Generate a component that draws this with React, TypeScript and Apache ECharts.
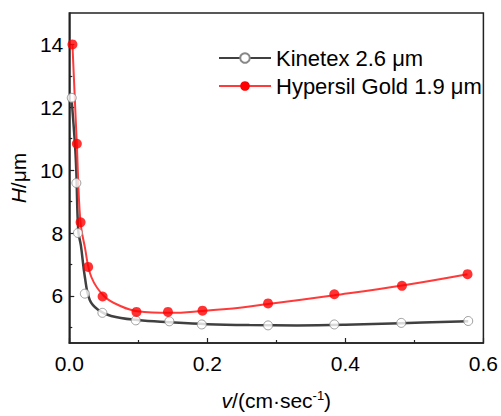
import React, { useEffect, useRef } from "react";
import * as echarts from "echarts";

const kinetexPoints: number[][] = [
  [0.0036, 12.3], [0.0103, 9.59], [0.0126, 8.0], [0.0226, 6.07], [0.048, 5.46],
  [0.0964, 5.22], [0.145, 5.19], [0.192, 5.09], [0.288, 5.06], [0.384, 5.09],
  [0.481, 5.14], [0.578, 5.2],
];
const hypersilPoints: number[][] = [
  [0.0046, 14.0], [0.011, 10.84], [0.0164, 8.34], [0.0274, 6.92], [0.0483, 5.98],
  [0.0974, 5.49], [0.143, 5.49], [0.193, 5.53], [0.288, 5.76], [0.384, 6.05],
  [0.482, 6.32], [0.577, 6.69],
];
const kinetexFit: number[][] = [
  [0.0036, 12.2], [0.0086, 10.7], [0.0103, 9.9], [0.0131, 8.06], [0.0169, 7.6],
  [0.0226, 6.6], [0.0297, 5.87], [0.0417, 5.56], [0.0607, 5.36], [0.099, 5.23],
  [0.146, 5.16], [0.2, 5.1], [0.261, 5.07], [0.33, 5.06], [0.4, 5.08],
  [0.48, 5.13], [0.578, 5.19],
];
const hypersilFit: number[][] = [
  [0.0046, 14.0], [0.011, 10.8], [0.016, 8.4], [0.0226, 7.55], [0.032, 6.6],
  [0.051, 5.98], [0.075, 5.67], [0.099, 5.51], [0.146, 5.46], [0.193, 5.52],
  [0.25, 5.63], [0.288, 5.74], [0.384, 6.02], [0.482, 6.33], [0.577, 6.69],
];
const xTicks = [0, 0.2, 0.4, 0.6];
const yMajor = [6, 8, 10, 12, 14];
const yMinor = [5, 7, 9, 11, 13];
const names = ["Kinetex 2.6 μm", "Hypersil Gold 1.9 μm"];

export default function App() {
  const ref = useRef<HTMLDivElement>(null);
  useEffect(() => {
    if (!ref.current) return;
    const chart = echarts.init(ref.current, undefined, { renderer: "svg" });
    const font = "Liberation Sans, Arial, sans-serif";
    chart.setOption({
      animation: false,
      textStyle: { fontFamily: font, color: "#000" },
      grid: {
        left: 68, right: 15, top: 13, bottom: 67,
        show: true, borderColor: "#222", borderWidth: 1.5,
      },
      legend: {
        data: names,
        orient: "vertical",
        left: 218,
        top: 47,
        padding: 0,
        itemWidth: 52,
        itemHeight: 12,
        itemGap: 6,
        textStyle: { fontSize: 22, color: "#000", fontFamily: font },
      },
      xAxis: {
        type: "value",
        min: xTicks[0],
        max: xTicks[xTicks.length - 1],
        interval: 0.2,
        axisLine: { lineStyle: { color: "#222", width: 1.5 } },
        axisTick: { inside: true, length: 5, lineStyle: { color: "#222", width: 1.2 } },
        minorTick: { show: true, splitNumber: 2, length: 3, lineStyle: { color: "#222", width: 1.2 } },
        splitLine: { show: false },
        axisLabel: { fontSize: 21, color: "#000", margin: 10, formatter: (v: number) => v.toFixed(1) },
        name: "{i|v}/(cm·sec{sup|-1})",
        nameLocation: "middle",
        nameGap: 46,
        nameTextStyle: {
          fontSize: 21, color: "#000",
          rich: {
            i: { fontStyle: "italic", fontSize: 21 },
            sup: { fontSize: 13, padding: [0, 0, 10, 0] },
          },
        },
      },
      yAxis: [
        {
          type: "value",
          min: 4.5,
          max: 15,
          axisLine: { show: true, lineStyle: { color: "#222", width: 1.5 } },
          axisTick: { inside: true, length: 5, customValues: yMajor, lineStyle: { color: "#222", width: 1.2 } },
          splitLine: { show: false },
          axisLabel: { fontSize: 21, color: "#000", margin: 6, customValues: yMajor },
          name: "{i|H}/μm",
          nameLocation: "middle",
          nameGap: 38,
          nameTextStyle: {
            fontSize: 21, color: "#000",
            rich: { i: { fontStyle: "italic", fontSize: 21 } },
          },
        },
        {
          type: "value",
          min: 4.5,
          max: 15,
          position: "left",
          axisLine: { show: false },
          axisTick: { inside: true, length: 3, customValues: yMinor, lineStyle: { color: "#222", width: 1.2 } },
          splitLine: { show: false },
          axisLabel: { show: false },
        },
      ],
      series: [
        {
          name: names[0],
          type: "line",
          smooth: 0.4,
          data: kinetexFit,
          showSymbol: false,
          symbol: "circle",
          symbolSize: 9,
          lineStyle: { color: "#404040", width: 2.5 },
          itemStyle: { color: "#fff", borderColor: "#888", borderWidth: 1 },
          z: 2,
        },
        {
          name: names[1],
          type: "line",
          smooth: 0.4,
          data: hypersilFit,
          showSymbol: false,
          symbol: "circle",
          symbolSize: 10,
          lineStyle: { color: "#ff3a3a", width: 2 },
          itemStyle: { color: "#ff0000" },
          z: 3,
        },
        {
          name: names[0],
          type: "scatter",
          data: kinetexPoints,
          symbol: "circle",
          symbolSize: 9,
          itemStyle: { color: "#fff", borderColor: "#888", borderWidth: 1 },
          z: 4,
        },
        {
          name: names[1],
          type: "scatter",
          data: hypersilPoints,
          symbol: "circle",
          symbolSize: 10,
          itemStyle: { color: "#ff0000" },
          z: 5,
        },
      ],
    });
    return () => chart.dispose();
  }, []);
  return (
    <div
      ref={ref}
      style={{ position: "absolute", left: 0, top: 0, width: 501, height: 416 }}
    />
  );
}
